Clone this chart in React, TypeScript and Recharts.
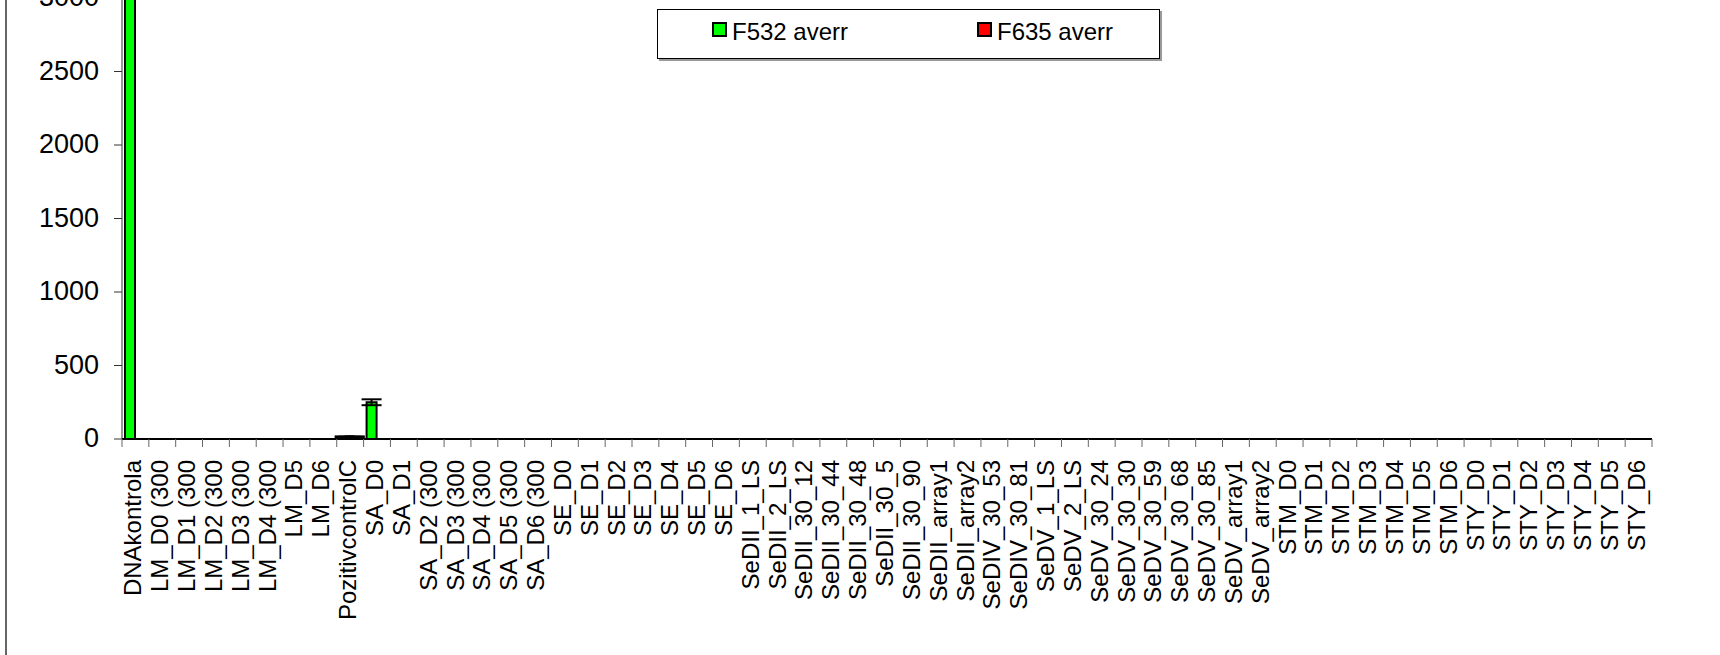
import React from 'react';
import { BarChart, Bar, XAxis, YAxis, ErrorBar, Legend } from 'recharts';

const FONT = '"Liberation Sans", Arial, sans-serif';

const categories = [
  'DNAkontrola', 'LM_D0 (300', 'LM_D1 (300', 'LM_D2 (300', 'LM_D3 (300', 'LM_D4 (300', 'LM_D5', 'LM_D6',
  'PozitivcontrolC', 'SA_D0', 'SA_D1', 'SA_D2 (300', 'SA_D3 (300', 'SA_D4 (300', 'SA_D5 (300', 'SA_D6 (300',
  'SE_D0', 'SE_D1', 'SE_D2', 'SE_D3', 'SE_D4', 'SE_D5', 'SE_D6',
  'SeDII_1_LS', 'SeDII_2_LS', 'SeDII_30_12', 'SeDII_30_44', 'SeDII_30_48', 'SeDII_30_5', 'SeDII_30_90',
  'SeDII_array1', 'SeDII_array2', 'SeDIV_30_53', 'SeDIV_30_81',
  'SeDV_1_LS', 'SeDV_2_LS', 'SeDV_30_24', 'SeDV_30_30', 'SeDV_30_59', 'SeDV_30_68', 'SeDV_30_85',
  'SeDV_array1', 'SeDV_array2',
  'STM_D0', 'STM_D1', 'STM_D2', 'STM_D3', 'STM_D4', 'STM_D5', 'STM_D6',
  'STY_D0', 'STY_D1', 'STY_D2', 'STY_D3', 'STY_D4', 'STY_D5', 'STY_D6',
];

const f532Values = [
  3600, 0, 0, 0, 0, 0, 0, 0,
  15, 250, 0, 0, 0, 0, 0, 0,
  0, 0, 0, 0, 0, 0, 0,
  0, 0, 0, 0, 0, 0, 0,
  0, 0, 0, 0,
  0, 0, 0, 0, 0, 0, 0,
  0, 0,
  0, 0, 0, 0, 0, 0, 0,
  0, 0, 0, 0, 0, 0, 0,
];

const f532Errors: (number | null)[] = categories.map((c) =>
  c === 'SA_D0' ? 20 : c === 'PozitivcontrolC' ? 3 : null
);

const f635Values = [
  0, 0, 0, 0, 0, 0, 0, 0,
  15, 0, 0, 0, 0, 0, 0, 0,
  0, 0, 0, 0, 0, 0, 0,
  0, 0, 0, 0, 0, 0, 0,
  0, 0, 0, 0,
  0, 0, 0, 0, 0, 0, 0,
  0, 0,
  0, 0, 0, 0, 0, 0, 0,
  0, 0, 0, 0, 0, 0, 0,
];

const f635Errors: (number | null)[] = categories.map((c) =>
  c === 'PozitivcontrolC' ? 3 : null
);

const yTicks = [0, 500, 1000, 1500, 2000, 2500, 3000];

const data = categories.map((name, i) => ({
  name,
  f532: f532Values[i],
  f532Err: f532Errors[i],
  f635: f635Values[i],
  f635Err: f635Errors[i],
}));

const CHART_W = 1720;
const CHART_H = 675;
const MARGIN = { top: 18, right: 68, left: 12, bottom: 0 };
const Y_AXIS_W = 110;
const X_AXIS_H = 216;
const PLOT_W = CHART_W - MARGIN.left - MARGIN.right - Y_AXIS_W;
const BAND = PLOT_W / categories.length;

const XTick = (props: any) => {
  const { x, y, payload, index } = props;
  const left = x - BAND / 2;
  return (
    <g>
      <line x1={left} y1={y} x2={left} y2={y + 8} stroke="#666" strokeWidth={1} />
      {index === categories.length - 1 && (
        <line x1={x + BAND / 2} y1={y} x2={x + BAND / 2} y2={y + 8} stroke="#666" strokeWidth={1} />
      )}
      <text
        transform={`translate(${x + 6}, ${y + 21}) rotate(-90)`}
        textAnchor="end"
        fontSize={24}
        fontFamily={FONT}
        fill="#000"
      >
        {payload.value}
      </text>
    </g>
  );
};

const YTick = (props: any) => {
  const { x, y, payload } = props;
  return (
    <text x={x} y={y} dy={-1} textAnchor="end" dominantBaseline="central" fontSize={27} fontFamily={FONT} fill="#000">
      {payload.value}
    </text>
  );
};

const renderLegend = (props: any) => {
  const payload = props.payload || [];
  const positions = [55, 320];
  return (
    <div
      style={{
        width: 503,
        height: 50,
        border: '1px solid #000',
        boxShadow: '2px 2px 0 #999',
        background: '#fff',
        position: 'relative',
        boxSizing: 'border-box',
        fontFamily: FONT,
      }}
    >
      {payload.map((p: any, i: number) => {
        const color = (p.payload && p.payload.fill) || p.color;
        return (
          <React.Fragment key={i}>
            <span
              style={{
                position: 'absolute',
                left: positions[i] - 1,
                top: 12,
                width: 15,
                height: 15,
                boxSizing: 'border-box',
                border: '2px solid #000',
                background: color,
              }}
            />
            <span
              style={{
                position: 'absolute',
                left: positions[i] + 19,
                top: 10,
                fontSize: 24,
                lineHeight: '24px',
                color: '#000',
                whiteSpace: 'nowrap',
              }}
            >
              {p.value}
            </span>
          </React.Fragment>
        );
      })}
    </div>
  );
};

export default function App() {
  return (
    <div style={{ position: 'absolute', left: 0, top: 0, width: 1720, height: 655, overflow: 'hidden', background: '#fff' }}>
      <div style={{ position: 'absolute', left: 5, top: 0, width: 2, height: 655, background: '#666' }} />
      <div style={{ position: 'absolute', left: 0, top: -20, width: CHART_W, height: CHART_H }}>
        <BarChart
          width={CHART_W}
          height={CHART_H}
          data={data}
          margin={MARGIN}
          barCategoryGap={3}
          barGap={0}
        >
          <XAxis
            dataKey="name"
            interval={0}
            height={X_AXIS_H}
            axisLine={{ stroke: '#000', strokeWidth: 2 }}
            tickLine={false}
            tickSize={0}
            tickMargin={0}
            tick={<XTick />}
          />
          <YAxis
            width={Y_AXIS_W}
            domain={[0, 3000]}
            ticks={yTicks}
            allowDataOverflow
            axisLine={{ stroke: '#333', strokeWidth: 1 }}
            tickLine={{ stroke: '#333', strokeWidth: 1 }}
            tickSize={8}
            tickMargin={15}
            tick={<YTick />}
          />
          <Legend
            layout="horizontal"
            verticalAlign="middle"
            align="center"
            content={renderLegend}
            wrapperStyle={{ position: 'absolute', left: 657, top: 29, width: 503, height: 50 }}
          />
          <Bar dataKey="f532" name="F532 averr" fill="#00FF00" stroke="#000" strokeWidth={2} isAnimationActive={false}>
            <ErrorBar dataKey="f532Err" width={10} stroke="#000" strokeWidth={2} direction="y" />
          </Bar>
          <Bar dataKey="f635" name="F635 averr" fill="#FF0000" stroke="#000" strokeWidth={2} isAnimationActive={false}>
            <ErrorBar dataKey="f635Err" width={10} stroke="#000" strokeWidth={2} direction="y" />
          </Bar>
        </BarChart>
      </div>
    </div>
  );
}
